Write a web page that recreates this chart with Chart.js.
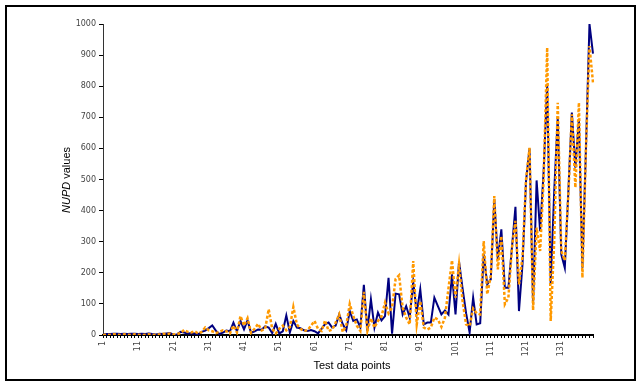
<!DOCTYPE html>
<html>
<head>
<meta charset="utf-8">
<script src="https://cdn.jsdelivr.net/npm/chart.js@4/dist/chart.umd.min.js"></script>
<style>
html,body{margin:0;padding:0;background:#fff;}
#c{display:block;}
</style>
</head>
<body>
<canvas id="c" width="641" height="386"></canvas>
<script>
// ---- data ----
const categories = [];
for (let i = 1; i <= 140; i++) categories.push(String(i));
const xTickLabels = ['1','11','21','31','41','51','61','71','81','91','101','111','121','131'];
const yTicks = [0,100,200,300,400,500,600,700,800,900,1000];

const seriesNavy = [
  2,3,3,4,4,3,4,3,4,4,
  3,4,3,5,3,2,4,3,5,6,
  1,2,10,8,5,6,5,2,10,14,
  22,31,14,3,8,14,12,40,12,45,
  18,47,7,12,18,17,28,24,6,36,
  5,12,63,8,45,24,22,15,13,16,
  12,5,20,35,40,24,30,66,35,15,
  77,45,50,24,161,13,115,24,72,47,
  61,184,4,133,131,66,93,56,171,72,
  147,34,40,40,120,93,66,79,66,195,
  66,236,150,70,8,120,34,38,259,163,
  179,436,243,340,152,152,280,412,77,227,
  495,600,99,497,334,527,806,163,463,700,
  259,216,460,715,538,693,216,600,1000,905
];
const seriesOrange = [
  0,1,0,2,1,0,2,1,0,2,
  1,0,1,2,0,1,2,4,3,5,
  2,3,6,16,10,8,12,5,10,24,
  15,12,6,10,15,12,5,30,8,61,
  30,54,7,20,36,15,20,83,20,5,
  20,30,15,25,90,34,20,13,15,30,
  45,20,13,47,13,17,40,66,10,30,
  100,61,30,13,139,13,54,24,45,60,
  104,70,88,180,192,88,56,34,238,34,
  109,24,18,24,56,50,26,56,150,240,
  120,227,109,34,29,85,70,66,302,131,
  190,447,211,318,99,120,280,367,163,250,
  500,602,80,345,270,500,924,45,302,747,
  270,240,450,710,474,747,184,600,929,811
];

// ---- plugin for frame & axis titles ----
const framePlugin = {
  id: 'frame',
  beforeDraw(chart) {
    const ctx = chart.ctx;
    ctx.save();
    ctx.fillStyle = '#fff';
    ctx.fillRect(0, 0, chart.width, chart.height);
    ctx.restore();
  },
  afterDraw(chart) {
    const ctx = chart.ctx;
    ctx.save();
    ctx.strokeStyle = '#000';
    ctx.lineWidth = 2;
    ctx.strokeRect(6, 6, 629, 374);
    // x title
    ctx.fillStyle = '#000';
    ctx.font = '11px "Liberation Sans", Arial, sans-serif';
    ctx.textAlign = 'center';
    ctx.textBaseline = 'middle';
    ctx.fillText('Test data points', 352, 366);
    // y title (mixed style)
    ctx.translate(67, 180);
    ctx.rotate(-Math.PI / 2);
    const fItal = 'italic 11px "Liberation Sans", Arial, sans-serif';
    const fNorm = '11px "Liberation Sans", Arial, sans-serif';
    ctx.font = fItal;
    const w1 = ctx.measureText('NUPD').width;
    ctx.font = fNorm;
    const w2 = ctx.measureText(' values').width;
    const start = -(w1 + w2) / 2;
    ctx.textAlign = 'left';
    ctx.font = fItal;
    ctx.fillText('NUPD', start, 0);
    ctx.font = fNorm;
    ctx.fillText(' values', start + w1, 0);
    ctx.restore();
  }
};

new Chart(document.getElementById('c'), {
  type: 'line',
  data: {
    labels: categories,
    datasets: [
      {
        label: 'A',
        data: seriesNavy,
        borderColor: '#000080',
        borderWidth: 2,
        pointRadius: 0,
        tension: 0,
        fill: false,
        order: 1
      },
      {
        label: 'B',
        data: seriesOrange,
        borderColor: '#FF9900',
        borderWidth: 2.5,
        borderDash: [3, 2],
        pointRadius: 0,
        tension: 0,
        fill: false,
        order: 0
      }
    ]
  },
  options: {
    responsive: false,
    animation: false,
    devicePixelRatio: 1,
    layout: { padding: { left: 0, right: 48, top: 24, bottom: 0 } },
    plugins: {
      legend: { display: false },
      tooltip: { enabled: false },
      title: { display: false }
    },
    scales: {
      x: {
        type: 'category',
        offset: false,
        border: { color: '#000', width: 2 },
        grid: { display: true, drawOnChartArea: false, drawTicks: true, tickLength: 3, color: '#000', lineWidth: 1 },
        ticks: {
          autoSkip: false,
          maxRotation: 90,
          minRotation: 90,
          padding: 3,
          color: '#444',
          font: { family: '"DejaVu Sans", sans-serif', size: 8 },
          callback: function(v, idx) {
            const l = categories[idx];
            return xTickLabels.includes(l) ? l : '';
          }
        },
        afterFit(scale) { scale.height = 51; }
      },
      y: {
        min: 0,
        max: 1000,
        border: { color: '#333', width: 1 },
        grid: { display: true, drawOnChartArea: false, drawTicks: true, tickLength: 4, color: '#000' },
        afterBuildTicks(scale) { scale.ticks = yTicks.map(v => ({ value: v })); },
        ticks: {
          padding: 3,
          color: '#444',
          font: { family: '"DejaVu Sans", sans-serif', size: 8 },
          callback: function(v) { return String(v); }
        },
        afterFit(scale) { scale.width = 103; }
      }
    }
  },
  plugins: [framePlugin]
});
</script>
</body>
</html>
